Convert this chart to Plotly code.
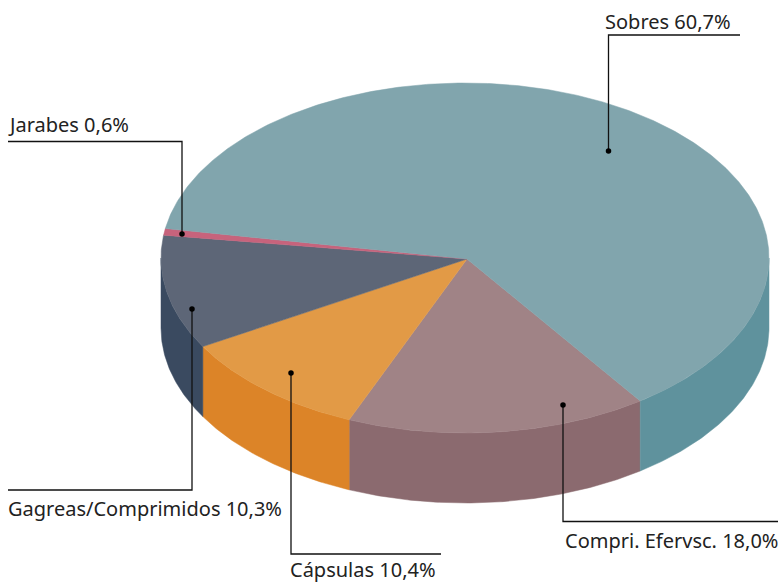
import numpy as np
import plotly.graph_objects as go

# Data
categories = ["Compri. Efervsc.", "Cápsulas", "Gagreas/Comprimidos", "Jarabes", "Sobres"]
printed_values = ["18,0", "10,4", "10,3", "0,6", "60,7"]
# slice sizes as drawn in the picture (% of the ellipse sweep)
drawn_shares = [16.00, 10.33, 10.53, 0.61, 62.53]
top_colors = ["#A08386", "#E29A46", "#5D6677", "#C7637C", "#81A5AD"]
side_colors = ["#8B6A6F", "#DC8428", "#3A4A60", "#9E4A60", "#5F929D"]

# Pie geometry
CX, CY, RX, RY, DEPTH = 465.0, 258.0, 304.0, 175.0, 70.0
APEX = (467.0, 259.0)
START_DEG = 54.8

# Label layout
label_pos = [(565, 540), (290, 569.5), (8, 508), (8, 124), (605, 21)]
leader_x = [[563, 563, 778], [291, 291, 441], [192, 192, 8], [182, 182, 8], [608.5, 608.5, 740]]
leader_y = [[405, 521.5, 521.5], [373, 554, 554], [309, 490, 490], [234, 141.5, 141.5], [151, 35, 35]]


def arc(a, b, dy=0.0):
    t = np.radians(np.linspace(a, b, max(3, int(abs(b - a) * 2) + 1)))
    return CX + RX * np.cos(t), CY + RY * np.sin(t) + dy


fig = go.Figure()
edges = START_DEG + np.concatenate([[0], np.cumsum(drawn_shares)]) * 3.6

# Side walls: only the front half of the disc (0..180 degrees, modulo 360) shows
for i in range(len(categories)):
    for shift in (0, -360):
        a = max(edges[i] + shift, 0)
        b = min(edges[i + 1] + shift, 180)
        if b <= a:
            continue
        x1, y1 = arc(a, b)
        x2, y2 = arc(b, a, DEPTH)
        fig.add_trace(go.Scatter(
            x=np.concatenate([x1, x2, x1[:1]]), y=np.concatenate([y1, y2, y1[:1]]),
            mode="lines", fill="toself", fillcolor=side_colors[i],
            line=dict(color=side_colors[i], width=0.5), hoverinfo="skip", showlegend=False))

# Top face
for i in range(len(categories)):
    x1, y1 = arc(edges[i], edges[i + 1])
    fig.add_trace(go.Scatter(
        x=np.concatenate([[APEX[0]], x1, [APEX[0]]]), y=np.concatenate([[APEX[1]], y1, [APEX[1]]]),
        mode="lines", fill="toself", fillcolor=top_colors[i],
        line=dict(color=top_colors[i], width=0.5), hoverinfo="skip", showlegend=False))

# Leaders
for lx, ly in zip(leader_x, leader_y):
    fig.add_trace(go.Scatter(x=lx, y=ly, mode="lines", line=dict(color="#111111", width=1.3),
                             hoverinfo="skip", showlegend=False))
    fig.add_trace(go.Scatter(x=lx[:1], y=ly[:1], mode="markers",
                             marker=dict(color="#000000", size=5.5), hoverinfo="skip", showlegend=False))

for name, val, (lx, ly) in zip(categories, printed_values, label_pos):
    fig.add_annotation(x=lx, y=ly, text=f"{name} {val}%", showarrow=False, xanchor="left", yanchor="middle",
                       xshift=-2.5, font=dict(family="Noto Sans", size=20, color="#222222"))

fig.update_layout(
    width=778, height=582, margin=dict(l=0, r=0, t=0, b=0),
    paper_bgcolor="white", plot_bgcolor="white", showlegend=False,
    xaxis=dict(range=[0, 778], visible=False, fixedrange=True),
    yaxis=dict(range=[582, 0], visible=False, fixedrange=True),
)
fig.write_html("out.html", config={"displayModeBar": False},
               post_script="document.body.style.margin='0';document.body.style.overflow='hidden';")
